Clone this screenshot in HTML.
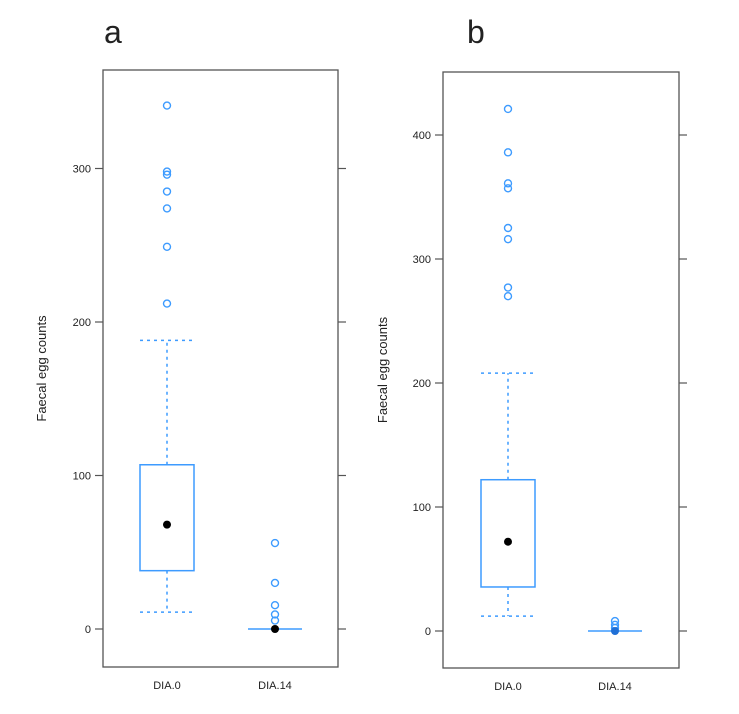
<!DOCTYPE html>
<html><head><meta charset="utf-8"><style>
html,body{margin:0;padding:0;background:#fff;}
svg text{font-family:"Liberation Sans",sans-serif;fill:#222;}
</style></head><body>
<svg id="chart" width="739" height="709" xmlns="http://www.w3.org/2000/svg"></svg>
<script>
// Panel a data
const categories = ["DIA.0", "DIA.14"];
const aTicks = [0, 100, 200, 300];
const aBox0 = {lw: 11, q1: 38, med: 68, q3: 107, uw: 188};
const aOut0 = [212, 249, 274, 285, 296, 298, 341];
const aMed1 = 0;
const aOut1 = [56, 30, 15.5, 9.5, 5.5];
// Panel b data
const bTicks = [0, 100, 200, 300, 400];
const bBox0 = {lw: 12, q1: 35.5, med: 72, q3: 122, uw: 208};
const bOut0 = [421, 386, 361, 357, 325, 316, 277, 270];
const bMed1 = 0;
const bOut1 = [8, 5, 2.5];

const svg = document.getElementById('chart');
const NS = "http://www.w3.org/2000/svg";
function mk(tag, attrs, parent){const e=document.createElementNS(NS,tag);for(const k in attrs)e.setAttribute(k,attrs[k]);(parent||svg).appendChild(e);return e;}
const blue = "#3d9bff";

function panel(p){
  const g = mk('g',{});
  
  
  const y = v => p.y0 - v * p.ppu;
  const lbl = mk('text',{x:p.lx,y:p.ly,'font-size':32},g); lbl.textContent=p.letter;
  
  
  const fr = mk('rect',{x:p.L,y:p.T,width:p.R-p.L,height:p.B-p.T,fill:'none',stroke:'#555','stroke-width':1.3},g);
  
  
  p.ticks.forEach(t=>{
    mk('line',{x1:p.L-8,x2:p.L,y1:y(t),y2:y(t),stroke:'#555','stroke-width':1.2},g);
    mk('line',{x1:p.R,x2:p.R+8,y1:y(t),y2:y(t),stroke:'#555','stroke-width':1.2},g);
    const tx = mk('text',{x:p.L-12,y:y(t)+4,'font-size':11,'text-anchor':'end'},g);
    tx.textContent=t;
    
    
  });
  const yt = mk('text',{x:0,y:0,'font-size':13,'text-anchor':'middle',transform:`translate(${p.titleX},${(p.T+p.B)/2}) rotate(-90)`},g);
  yt.textContent="Faecal egg counts";
  
  
  const xs=[p.x0,p.x1];
  categories.forEach((c,i)=>{
    const t=mk('text',{x:xs[i],y:p.B+22,'font-size':11,'text-anchor':'middle'},g);
    t.textContent=c;
    
    
  });
  const b=p.box, hw=27, cx=p.x0;
  const dash={stroke:blue,'stroke-width':1.5,'stroke-dasharray':'3,4',fill:'none'};
  mk('line',Object.assign({x1:cx,x2:cx,y1:y(b.q3),y2:y(b.uw)},dash),g);
  mk('line',Object.assign({x1:cx,x2:cx,y1:y(b.q1),y2:y(b.lw)},dash),g);
  mk('line',Object.assign({x1:cx-hw,x2:cx+hw,y1:y(b.uw),y2:y(b.uw)},dash),g);
  mk('line',Object.assign({x1:cx-hw,x2:cx+hw,y1:y(b.lw),y2:y(b.lw)},dash),g);
  const r=mk('rect',{x:cx-hw,y:y(b.q3),width:2*hw,height:y(b.q1)-y(b.q3),fill:'none',stroke:blue,'stroke-width':1.5},g);
  
  
  p.out0.forEach(v=>{const c=mk('circle',{cx:cx,cy:y(v),r:3.5,fill:'none',stroke:blue,'stroke-width':1.4},g);
    
    });
  const m=mk('circle',{cx:cx,cy:y(b.med),r:4,fill:'#000'},g);
  
  
  const c1=p.x1;
  mk('line',{x1:c1-hw,x2:c1+hw,y1:y(p.med1),y2:y(p.med1),stroke:blue,'stroke-width':1.5},g);
  p.out1.forEach(v=>{const c=mk('circle',{cx:c1,cy:y(v),r:3.5,fill:'none',stroke:blue,'stroke-width':1.4},g);
    
    });
  const m1=mk('circle',{cx:c1,cy:y(p.med1),r:4,fill:p.filled1||'#000'},g);
  
  
}
panel({name:'panel-a',letter:'a',lx:104,ly:43,L:103,R:338,T:70,B:667,y0:629,ppu:1.535,ticks:aTicks,titleX:46,x0:167,x1:275,box:aBox0,out0:aOut0,med1:aMed1,out1:aOut1});
panel({name:'panel-b',letter:'b',lx:467,ly:43,L:443,R:679,T:72,B:668,y0:631,ppu:1.24,ticks:bTicks,titleX:387,x0:508,x1:615,box:bBox0,out0:bOut0,med1:bMed1,out1:bOut1,filled1:'#1f6fd6'});
</script>
</body></html>
